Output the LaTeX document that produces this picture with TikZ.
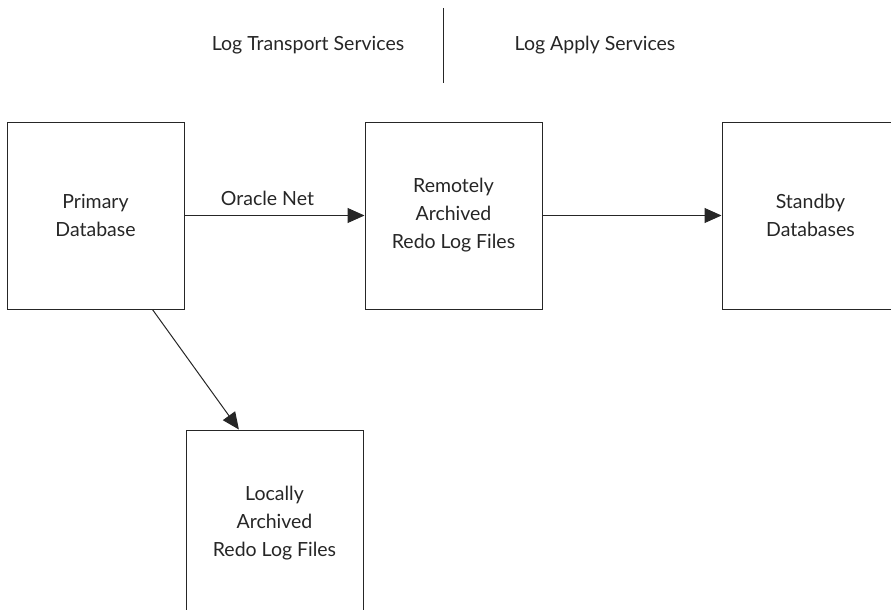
\documentclass[tikz,border=0pt]{standalone}
\usepackage{fontspec}
\setmainfont{Lato}
\usetikzlibrary{arrows.meta,calc}
\begin{document}
\begin{tikzpicture}[x=1pt,y=1pt,
  box/.style={draw=black!85, line width=1pt, minimum width=177pt, minimum height=187pt,
    inner sep=0pt, align=center, font=\fontsize{19.5}{28}\selectfont, text=black!85},
  lbl/.style={font=\fontsize{19.5}{22}\selectfont, text=black!85, inner sep=0pt},
  conn/.style={draw=black!85, line width=1pt, -{Triangle[length=17pt,width=15pt]}}]
\path[use as bounding box] (0,0) rectangle (891,-610);
\clip (0,0) rectangle (891,-610);
\node[box] (prim) at (95.5,-215.5) {Primary\\Database};
\node[box] (rem) at (453.5,-215.5) {Remotely\\Archived\\Redo Log Files};
\node[box] (stby) at (810.5,-215.5) {Standby\\Databases};
\node[box] (loc) at (274.5,-523.5) {Locally\\Archived\\Redo Log Files};
\node[lbl] (lts) at (308,-45) {Log Transport Services};
\node[lbl] (las) at (595,-45) {Log Apply Services};
\coordinate (divt) at (443,-8);
\coordinate (divb) at (443,-83);
\draw[draw=black!85, line width=1pt] (divt) -- (divb);
\draw[conn] (prim.east) -- node[lbl, above=9pt, xshift=-7pt] (onet) {Oracle Net} (rem.west);
\draw[conn] (rem.east) -- (stby.west);
\draw[conn] ($(prim.south west)!0.82!(prim.south east)$) -- ($(loc.north west)!0.30!(loc.north east)$);
\end{tikzpicture}
\end{document}
